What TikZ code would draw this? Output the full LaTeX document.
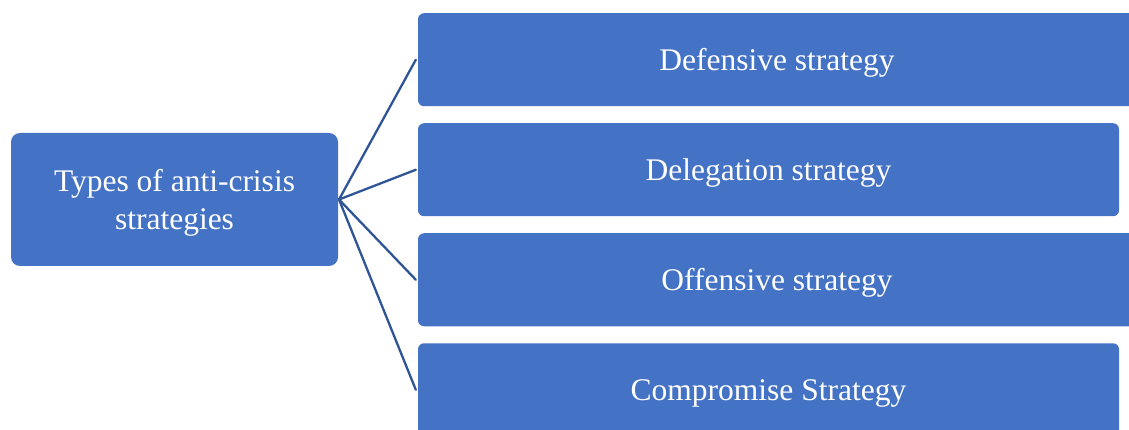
\documentclass[tikz,border=0pt]{standalone}
\usepackage{fontspec}
\setmainfont{Liberation Serif}
\definecolor{boxblue}{HTML}{4472C4}
\definecolor{linkblue}{HTML}{2F5597}
\begin{document}
\begin{tikzpicture}[x=1pt,y=-1pt,
  card/.style={fill=boxblue, draw=none, text=white, align=center,
    font=\fontsize{31.5}{38}\selectfont, inner sep=0pt, text depth=0pt},
  rootcard/.style={card, rounded corners=9pt, minimum width=327pt, minimum height=133pt},
  leafcard/.style={card, rounded corners=6pt, minimum height=93pt},
  link/.style={draw=linkblue, line width=2.3pt, line cap=round}]
\useasboundingbox (0,0) rectangle (1129,430);
\clip (0,0) rectangle (1129,430);
% root box
\node[rootcard] (root) at (174.5,199.5) {Types of anti-crisis\\strategies};
% strategy boxes (some run past the right edge)
\node[leafcard, minimum width=718pt] (s1) at (777,59.75) {Defensive strategy};
\node[leafcard, minimum width=701pt] (s2) at (768.5,169.75) {Delegation strategy};
\node[leafcard, minimum width=718pt] (s3) at (777,279.75) {Offensive strategy};
\node[leafcard, minimum width=701pt] (s4) at (768.5,389.75) {Compromise Strategy};
% connectors fanning out from the root
\coordinate (hub) at (339,199.5);
\draw[link] (hub) -- ([xshift=-2pt]s1.west);
\draw[link] (hub) -- ([xshift=-2pt]s2.west);
\draw[link] (hub) -- ([xshift=-2pt]s3.west);
\draw[link] (hub) -- ([xshift=-2pt]s4.west);
\end{tikzpicture}
\end{document}
